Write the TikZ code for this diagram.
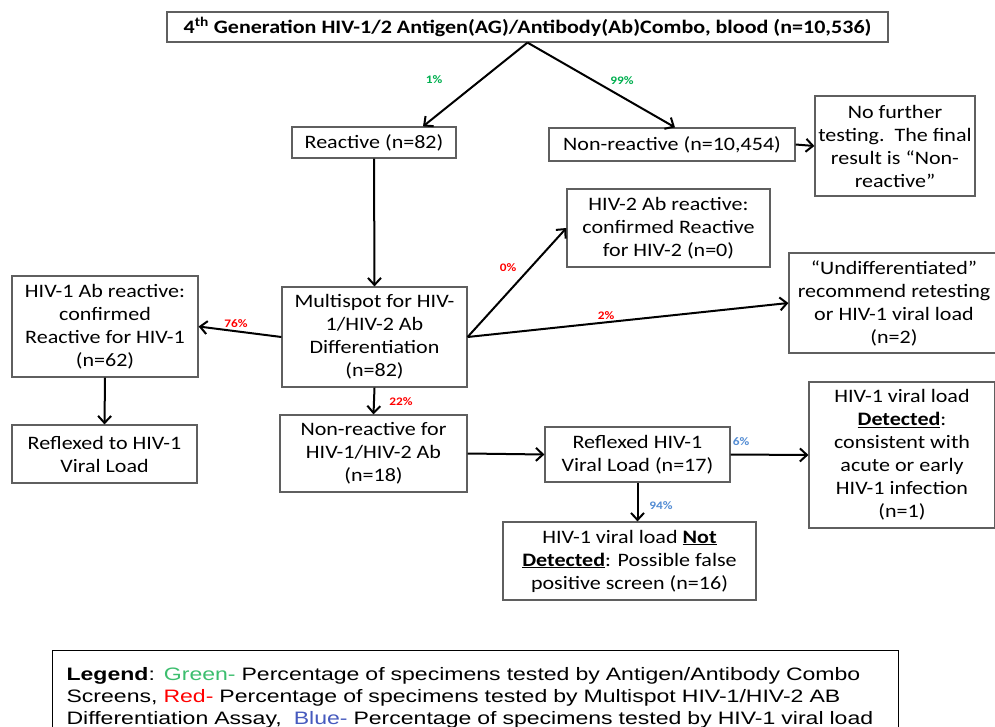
\documentclass[tikz,border=0pt]{standalone}
\usepackage{fontspec}
\setmainfont[FakeStretch=1.16]{Carlito}
\newfontfamily\legendfont[FakeStretch=1.28]{Liberation Sans}
\usetikzlibrary{arrows.meta}
\definecolor{pctgreen}{RGB}{0,176,80}
\definecolor{pctred}{RGB}{255,0,0}
\definecolor{pctblue}{RGB}{84,141,212}
\definecolor{boxgray}{RGB}{95,95,95}
\definecolor{lgdgreen}{RGB}{60,190,110}
\definecolor{lgdblue}{RGB}{70,90,190}
\tikzset{
	flowbox/.style={draw=boxgray, line width=1.2pt, align=center, inner sep=0pt,
		font=\fontsize{19}{23}\selectfont},
	flowarrow/.style={-{Straight Barb[length=7pt,width=13pt]}, line width=2pt},
	pct/.style={font=\fontsize{11.5}{12}\selectfont\bfseries, inner sep=0pt}
}

\begin{document}
\begin{tikzpicture}[x=1pt, y=-1pt]
	\useasboundingbox[fill=white] (0,0) rectangle (995,727);

	% screening
	\node[flowbox, minimum width=721, minimum height=30] (combo) at (527.5,27)
		{\textbf{4\textsuperscript{th} Generation HIV-1/2 Antigen(AG)/Antibody(Ab)Combo, blood (n=10,536)}};
	\node[flowbox, minimum width=164, minimum height=31] (reactive) at (374,142.5) {Reactive (n=82)};
	\node[flowbox, minimum width=246, minimum height=33] (nonreact) at (672,144.5) {Non-reactive (n=10,454)};
	\node[flowbox, minimum width=160, minimum height=100] (nofurther) at (895,146)
		{No further\\testing.\ \ The final\\result is “Non-\\reactive”};

	% differentiation
	\node[flowbox, minimum width=185, minimum height=100] (multi) at (374.5,337)
		{Multispot for HIV-\\1/HIV-2 Ab\\Differentiation\\(n=82)};
	\node[flowbox, minimum width=203, minimum height=78] (hivtwo) at (668.5,228)
		{HIV-2 Ab reactive:\\confirmed Reactive\\for HIV-2 (n=0)};
	\node[flowbox, minimum width=210, minimum height=100] (undiff) at (894,303)
		{“Undifferentiated”\\recommend retesting\\or HIV-1 viral load\\(n=2)};
	\node[flowbox, minimum width=186, minimum height=101] (hivone) at (105,326.5)
		{HIV-1 Ab reactive:\\confirmed\\Reactive for HIV-1\\(n=62)};
	\node[flowbox, minimum width=185, minimum height=58] (reflexto) at (104.5,454)
		{Reflexed to HIV-1\\Viral Load};
	\node[flowbox, minimum width=187, minimum height=77] (nonab) at (373.5,453.5)
		{Non-reactive for\\HIV-1/HIV-2 Ab\\(n=18)};

	% viral load
	\node[flowbox, minimum width=185, minimum height=55] (reflexed) at (637.5,454.5)
		{Reflexed HIV-1\\Viral Load (n=17)};
	\node[flowbox, minimum width=186, minimum height=146] (detected) at (902,455)
		{HIV-1 viral load\\\underline{\textbf{Detected}}:\\consistent with\\acute or early\\HIV-1 infection\\(n=1)};
	\node[flowbox, minimum width=253, minimum height=78] (notdet) at (629.5,561)
		{HIV-1 viral load \underline{\textbf{Not}}\\\underline{\textbf{Detected}}: Possible false\\positive screen (n=16)};

	% arrows
	\draw[flowarrow] (combo.south) -- ([xshift=49pt]reactive.north);
	\draw[flowarrow] (combo.south) -- ([xshift=3pt]nonreact.north);
	\draw[flowarrow] (nonreact.east) -- (nofurther.west);
	\draw[flowarrow] (reactive.south) -- (multi.north);
	\draw[flowarrow] (multi.west) -- (hivone.east);
	\draw[flowarrow] (multi.east) -- (hivtwo.west);
	\draw[flowarrow] (multi.east) -- (undiff.west);
	\draw[flowarrow] (multi.south) -- (nonab.north);
	\draw[flowarrow] (hivone.south) -- (reflexto.north);
	\draw[flowarrow] (nonab.east) -- (reflexed.west);
	\draw[flowarrow] (reflexed.east) -- (detected.west);
	\draw[flowarrow] (reflexed.south) -- (reflexed.south |- notdet.north);

	% percentages
	\node[pct, text=pctgreen] (p1) at (434,80) {1\%};
	\node[pct, text=pctgreen] (p99) at (622,81) {99\%};
	\node[pct, text=pctred] (p76) at (236,324) {76\%};
	\node[pct, text=pctred] (p0) at (508,268) {0\%};
	\node[pct, text=pctred] (p2) at (606,316) {2\%};
	\node[pct, text=pctred] (p22) at (401,402) {22\%};
	\node[pct, text=pctblue] (p6) at (741,442) {6\%};
	\node[pct, text=pctblue] (p94) at (661,506) {94\%};

	% legend
	\node[draw=black, line width=1.2pt, anchor=north west, minimum width=846, minimum height=95,
		text width=830, inner sep=0pt, align=left, font=\legendfont\fontsize{18}{22}\selectfont]
		(legend) at (52,650) {\hspace*{6pt}\textbf{Legend}: \textcolor{lgdgreen}{Green-} Percentage of specimens tested by Antigen/Antibody Combo\\
		\hspace*{6pt}Screens, \textcolor{pctred}{Red-} Percentage of specimens tested by Multispot HIV-1/HIV-2 AB\\
		\hspace*{6pt}Differentiation Assay, \ \textcolor{lgdblue}{Blue-} Percentage of specimens tested by HIV-1 viral load};
\end{tikzpicture}
\end{document}
